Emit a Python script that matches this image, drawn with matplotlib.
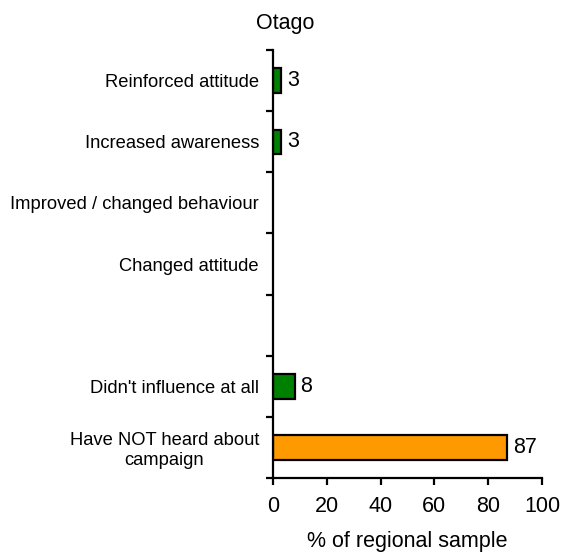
import numpy as np
import matplotlib.pyplot as plt

# --------- data --------

categories = ['Reinforced attitude', 'Increased awareness',
              'Improved / changed behaviour', 'Changed attitude', '',
              "Didn't influence at all", 'Have NOT heard about\ncampaign']
values = [3, 3, None, None, None, 8, 87]
bar_colors = ['#008000', '#008000', '#008000', '#008000', '#008000',
              '#008000', '#FF9900']
xticks = [0, 20, 40, 60, 80, 100]

# --------- plot-params -----------

plt.rcParams['font.family'] = ['Liberation Sans', 'DejaVu Sans']
labelsize = 13.2
numbersize = 15.5
mylw = 1.6

fig = plt.figure(figsize=(5.61, 5.54), dpi=100)
ax = fig.add_axes([0.4866, 0.1372, 0.4795, 0.7725])

ypos = np.arange(len(categories))
for y, v, c in zip(ypos, values, bar_colors):
    if v is None:
        continue
    ax.barh(y, v, height=0.4, color=c, edgecolor='black', linewidth=mylw)
    ax.text(v + 2.2, y, str(v), va='center', ha='left', fontsize=numbersize)

ax.set_ylim(len(categories) - 0.5, -0.5)
ax.set_xlim(0, 100)
ax.set_xticks(xticks)
ax.set_xticklabels([str(t) for t in xticks], fontsize=numbersize)

# boundary ticks (unlabelled) and centre labels (no tick)
ax.set_yticks(np.arange(len(categories) + 1) - 0.5)
ax.set_yticklabels([])
ax.set_yticks(ypos, minor=True)
ax.set_yticklabels(categories, minor=True, fontsize=labelsize,
                   multialignment='center')
ax.tick_params(axis='y', which='minor', length=0, pad=10)
ax.tick_params(axis='both', which='major', length=5, width=mylw,
               direction='out')
ax.tick_params(axis='x', pad=8)

for s in ['top', 'right']:
    ax.spines[s].set_visible(False)
for s in ['left', 'bottom']:
    ax.spines[s].set_linewidth(mylw)

ax.set_xlabel('% of regional sample', fontsize=numbersize, labelpad=10)
fig.text(0.508, 0.958, 'Otago', ha='center', va='center', fontsize=numbersize)

plt.savefig('out.png', dpi=100)
